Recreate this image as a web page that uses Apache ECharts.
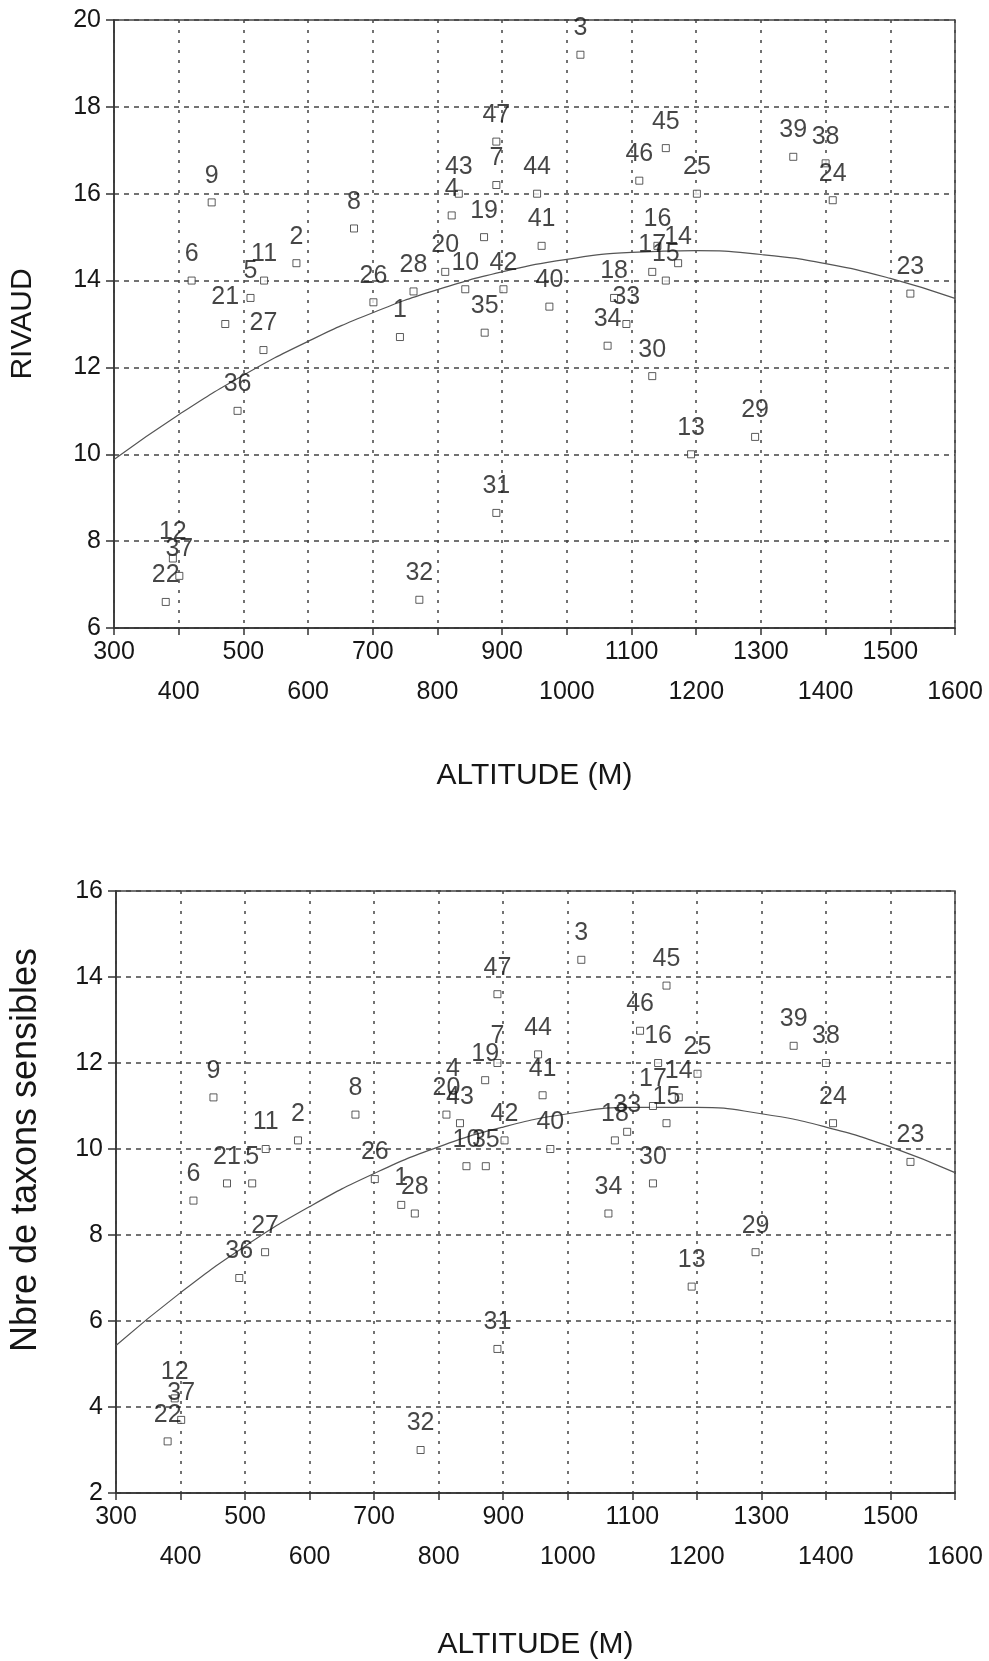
<!DOCTYPE html>
<html>
<head>
<meta charset="utf-8">
<title>Rivaud / taxons sensibles - altitude</title>
<script src="https://cdn.jsdelivr.net/npm/echarts@6/dist/echarts.min.js"></script>
<style>
  html, body { margin: 0; padding: 0; background: #fff; }
  #chart { width: 989px; height: 1661px; }
</style>
</head>
<body>
<div id="chart"></div>
<script>
// station numbers (point labels)
var stations = [1,2,3,4,5,6,7,8,9,10,11,12,13,14,15,16,17,18,19,20,21,22,23,24,
                25,26,27,28,29,30,31,32,33,34,35,36,37,38,39,40,41,42,43,44,45,46,47];
// altitude (m) of each station
var altitude = [742,582,1021,822,511,420,891,671,451,843,532,391,1192,1172,1153,1140,1132,1073,872,812,
                472,380,1531,1411,1201,701,531,763,1291,1132,891,772,1092,1063,873,491,401,1400,1350,973,
                961,902,833,954,1153,1112,891];
// RIVAUD index
var rivaud = [12.7,14.4,19.2,15.5,13.6,14.0,16.2,15.2,15.8,13.8,14.0,7.6,10.0,14.4,14.0,14.8,14.2,13.6,15.0,14.2,
              13.0,6.6,13.7,15.85,16.0,13.5,12.4,13.75,10.4,11.8,8.65,6.65,13.0,12.5,12.8,11.0,7.2,16.7,16.85,13.4,
              14.8,13.8,16.0,16.0,17.05,16.3,17.2];
// Nbre de taxons sensibles
var taxons = [8.7,10.2,14.4,11.25,9.2,8.8,12.0,10.8,11.2,9.6,10.0,4.2,6.8,11.2,10.6,12.0,11.0,10.2,11.6,10.8,
              9.2,3.2,9.7,10.6,11.75,9.3,7.6,8.5,7.6,9.2,5.35,3.0,10.4,8.5,9.6,7.0,3.7,12.0,12.4,10.0,
              11.25,10.2,10.6,12.2,13.8,12.75,13.6];

// fitted curves
var fitX = [300,400,500,600,700,800,900,1000,1100,1200,1300,1400,1500,1600];
var rivaudFit = [9.88,10.91,11.82,12.60,13.26,13.79,14.20,14.49,14.65,14.69,14.60,14.39,14.05,13.59];
var taxonsFit = [5.43,6.66,7.74,8.66,9.43,10.05,10.51,10.82,10.97,10.97,10.82,10.51,10.05,9.45];

var FONT = '"Liberation Sans", Arial, Helvetica, sans-serif';
var INK = '#161616';

function pairs(xs, ys, withName) {
    var out = [];
    for (var i = 0; i < xs.length; i++) {
        var d = { value: [xs[i], ys[i]] };
        if (withName) d.name = String(stations[i]);
        out.push(d);
    }
    return out;
}

function xAxisFor(gridIndex, gap) {
    return {
        type: 'value', gridIndex: gridIndex,
        min: 300, max: 1600, interval: 100,
        name: 'ALTITUDE (M)', nameLocation: 'middle', nameGap: gap,
        nameTextStyle: { fontFamily: FONT, fontSize: 30, color: INK },
        axisLine: { show: true, onZero: false, lineStyle: { color: '#333', width: 1.5 } },
        axisTick: { show: true, inside: false, length: 7, lineStyle: { color: '#333', width: 1.5 } },
        axisLabel: {
            interval: 0, margin: 4, hideOverlap: false,
            fontFamily: FONT, fontSize: 25, lineHeight: 40, color: INK,
            // odd hundreds on the first row, even hundreds on the second
            formatter: function (v) {
                return (Math.round(v / 100) % 2 === 1) ? String(v) : '\n' + v;
            }
        },
        splitLine: { show: true, lineStyle: { color: '#444', type: [3, 7], width: 1.5 } }
    };
}

function yAxisFor(gridIndex, min, max, name, size, gap, pad) {
    return {
        type: 'value', gridIndex: gridIndex,
        min: min, max: max, interval: 2,
        name: name, nameLocation: 'middle', nameGap: gap, nameRotate: 90,
        nameTextStyle: { fontFamily: FONT, fontSize: size, color: INK, padding: pad },
        axisLine: { show: true, onZero: false, lineStyle: { color: '#333', width: 1.5 } },
        axisTick: { show: true, inside: false, length: 8, lineStyle: { color: '#333', width: 1.5 } },
        axisLabel: { margin: 13, fontFamily: FONT, fontSize: 25, color: INK },
        splitLine: { show: true, lineStyle: { color: '#444', type: [5, 5], width: 1.5 } }
    };
}

function scatterFor(idx, ys) {
    return {
        type: 'scatter', xAxisIndex: idx, yAxisIndex: idx, z: 5,
        symbol: 'rect', symbolSize: 7,
        itemStyle: { color: '#fff', borderColor: '#333', borderWidth: 1 },
        label: {
            show: true, position: 'top', distance: 10,
            formatter: '{b}', fontFamily: FONT, fontSize: 25, color: INK
        },
        data: pairs(altitude, ys, true)
    };
}

function fitFor(idx, ys) {
    return {
        type: 'line', xAxisIndex: idx, yAxisIndex: idx, z: 3,
        smooth: true, showSymbol: false, symbol: 'none',
        lineStyle: { color: '#555', width: 1.2 },
        data: pairs(fitX, ys, false)
    };
}

var chart = echarts.init(document.getElementById('chart'));
chart.setOption({
    backgroundColor: '#fff',
    animation: false,
    grid: [
        { left: 110, top: 20, width: 845, height: 608, show: true, borderColor: '#444', borderWidth: 1.5, backgroundColor: 'transparent' },
        { left: 110, top: 891, width: 845, height: 610, show: true, borderColor: '#444', borderWidth: 1.5, backgroundColor: 'transparent' }
    ],
    xAxis: [xAxisFor(0, 133), xAxisFor(1, 137)],
    yAxis: [
        yAxisFor(0, 6, 20, 'RIVAUD', 30, 76, [0, 0, 0, 0]),
        yAxisFor(1, 2, 16, 'Nbre de taxons sensibles', 36, 72, [0, 0, 0, 84])
    ],
    series: [
        fitFor(0, rivaudFit),
        scatterFor(0, rivaud),
        fitFor(1, taxonsFit),
        scatterFor(1, taxons)
    ]
});
</script>
</body>
</html>
